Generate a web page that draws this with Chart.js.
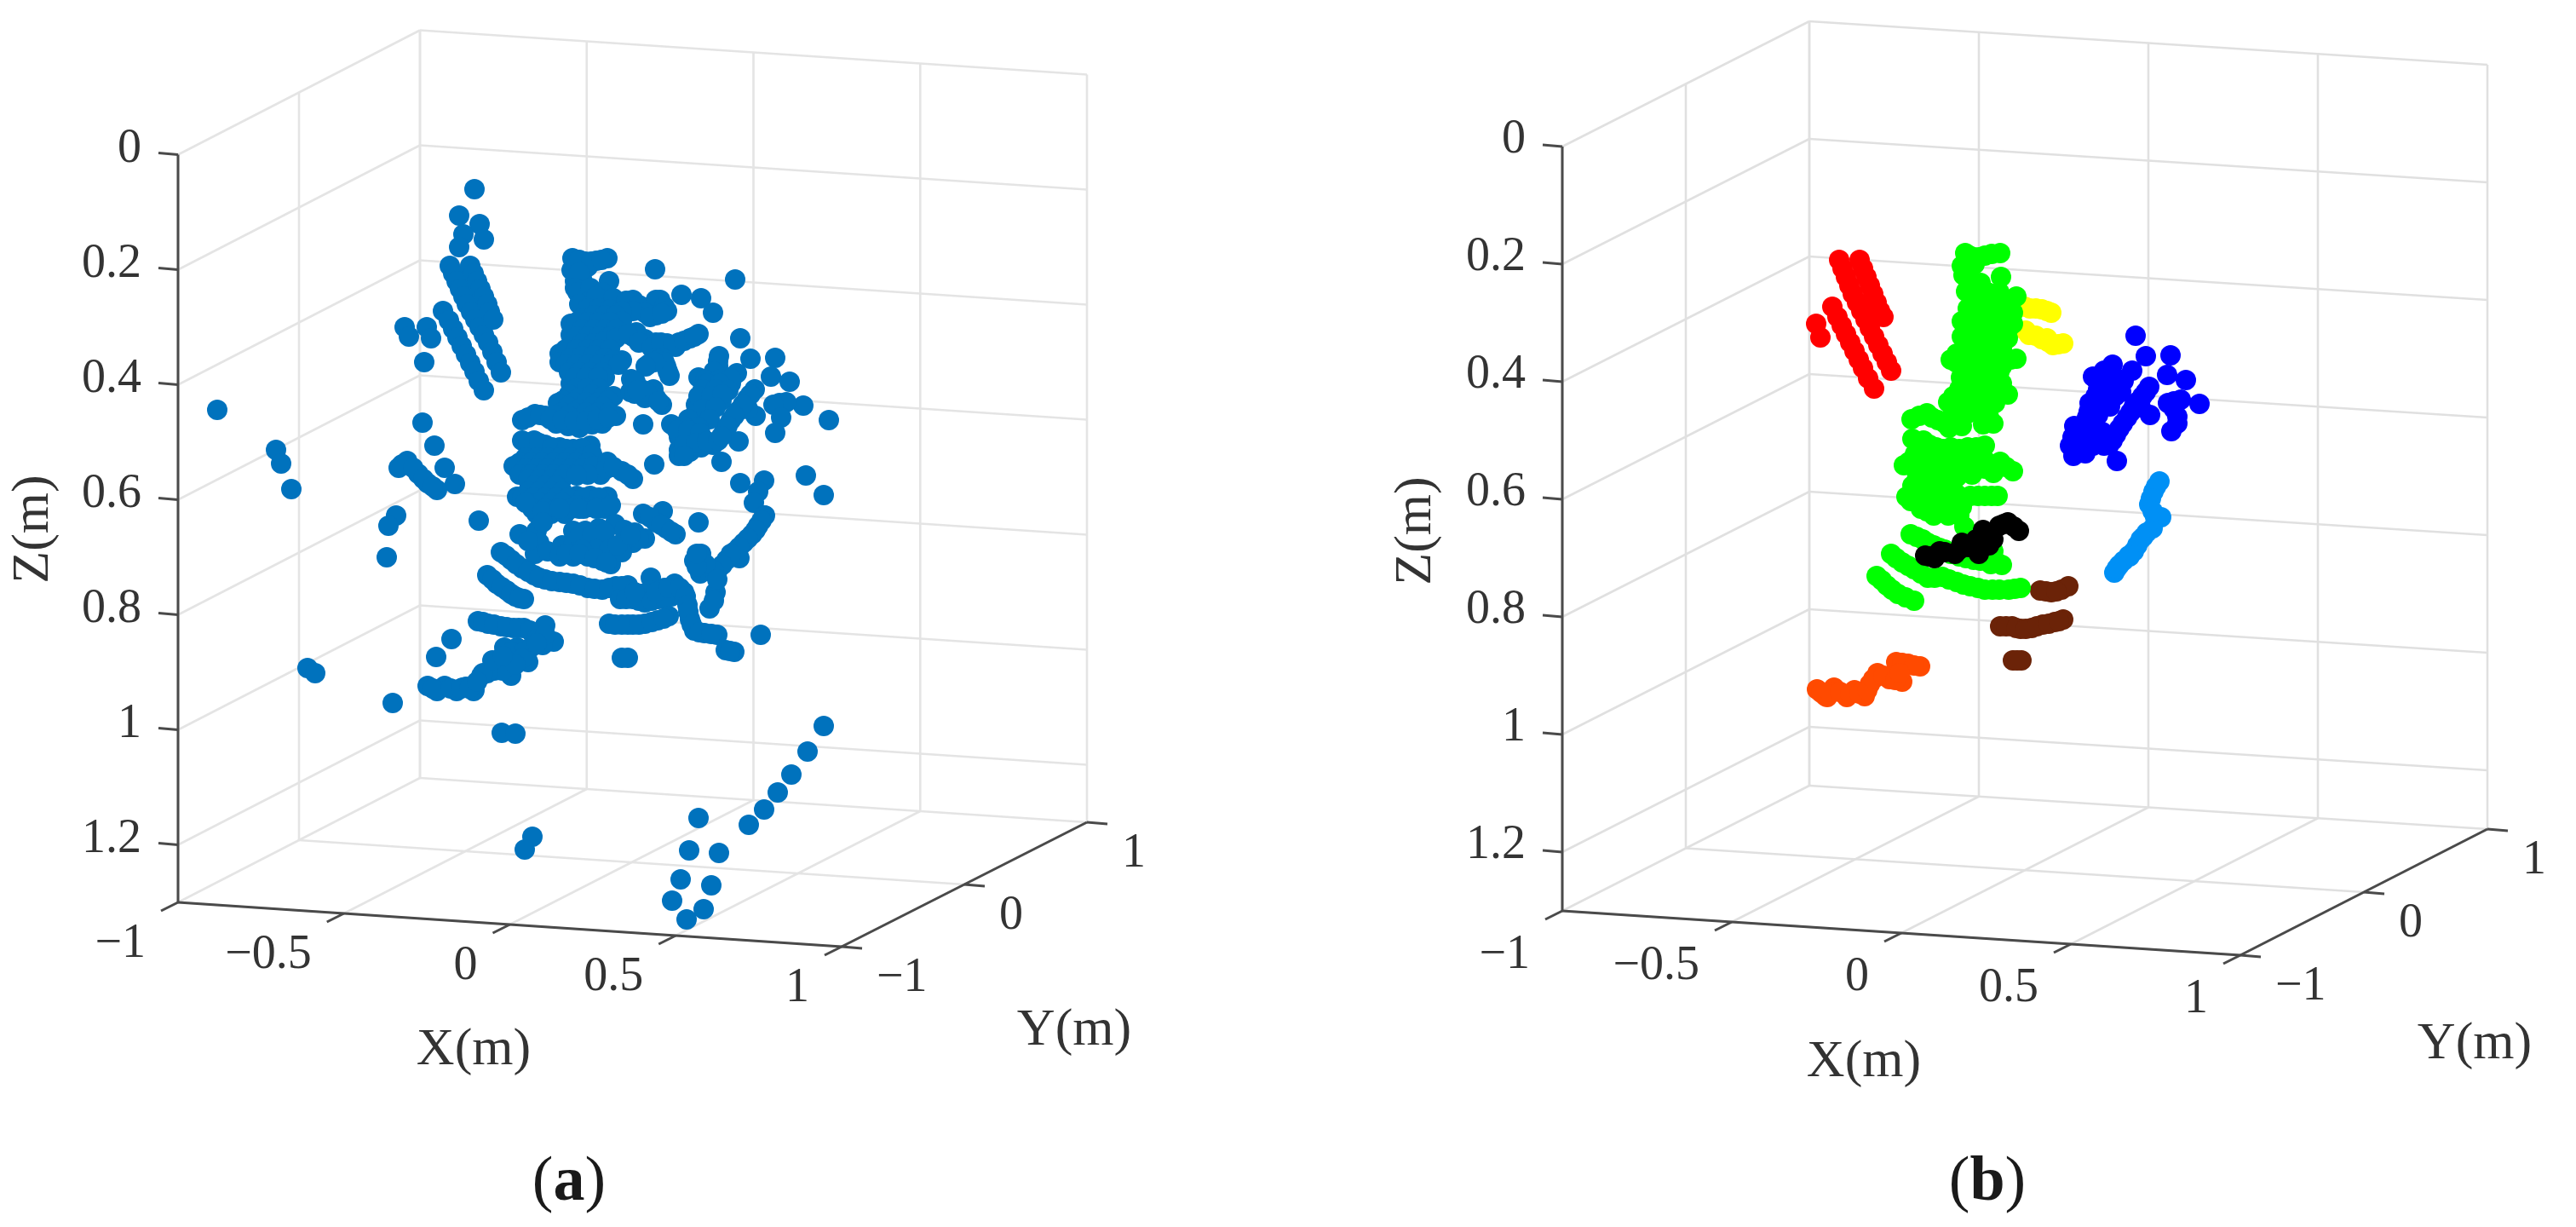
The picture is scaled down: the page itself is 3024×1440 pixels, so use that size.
<!DOCTYPE html>
<html>
<head>
<meta charset="utf-8">
<script src="https://cdn.jsdelivr.net/npm/chart.js@4/dist/chart.umd.min.js"></script>
<style>
  html, body { margin: 0; background: #fff; width: 3024px; height: 1440px; overflow: hidden; }
  canvas { position: absolute; top: 0; }
  .caption { position: absolute; top: 1338px; width: 200px; text-align: center; font: 74px "Liberation Serif", serif; line-height: 90px; color: #1a1a1a; }
</style>
</head>
<body>
<canvas id="panelA" width="1512" height="1440" style="left:0"></canvas>
<canvas id="panelB" width="1512" height="1440" style="left:1512px"></canvas>
<div class="caption" style="left:568px">(<b>a</b>)</div>
<div class="caption" style="left:2233px">(<b>b</b>)</div>
<script>
const xTicks = [-1, -0.5, 0, 0.5, 1];
const yTicks = [-1, 0, 1];
const zTicks = [0, 0.2, 0.4, 0.6, 0.8, 1, 1.2];
const xTickLabels = ["\u22121", "\u22120.5", "0", "0.5", "1"];
const yTickLabels = ["\u22121", "0", "1"];
const zTickLabels = ["0", "0.2", "0.4", "0.6", "0.8", "1", "1.2"];
const zMax = 1.3;

const allPoints = [
  [557,222],[539,253],[563,263],[544,275],[568,281],[539,290],
  [528,312],[532,321],[536,330],[540,339],[544,348],[548,357],[553,366],[558,375],[563,384],[568,393],[573,402],[578,413],[583,425],[588,437],
  [552,312],[556,321],[560,330],[564,339],[568,348],[572,357],[575,366],[579,375],
  [520,365],[527,376],[532,386],[537,396],[542,406],[547,416],[552,426],[557,436],[562,447],[568,458],
  [475,384],[480,395],[501,384],[506,397],[498,425],[255,481],[324,528],[330,544],[342,574],
  [496,496],[510,523],[522,549],[534,568],[468,549],[478,541],[491,556],[502,567],[513,575],[472,545],[485,549],[497,562],[508,571],
  [465,605],[456,617],[454,654],[562,611],
  [672,303],[687,307],[700,306],[713,303],[671,317],[677,310],[690,313],[715,330],[675,330],[683,327],[680,305],[694,307],[706,305],[680,320],[675,338],[686,345],
  [678,343],[693,338],[707,343],[743,352],[727,355],[713,357],[693,353],[680,357],[700,348],[720,350],[735,353],[750,358],[763,360],[775,352],
  [770,352],[780,360],[783,365],[770,370],[757,367],[743,365],[690,362],[703,362],[716,363],[730,365],[763,372],[777,368],
  [769,316],[863,328],[800,346],[823,350],[837,367],
  [670,380],[683,373],[697,370],[710,370],[723,370],[730,377],[677,378],[690,378],[703,378],[716,378],
  [670,393],[683,387],[697,387],[710,387],[723,387],[677,395],[690,395],[703,395],[716,395],
  [657,415],[670,407],[683,403],[697,403],[710,400],[723,397],[664,410],[677,410],[690,410],[703,410],[716,410],
  [657,425],[670,420],[683,418],[697,417],[710,420],[730,423],[720,423],[664,428],[677,428],[690,428],[703,428],[716,428],[726,428],
  [743,395],[757,398],[770,402],[783,403],[797,402],[810,397],[820,392],[747,390],[793,407],[780,410],[737,392],[750,402],[765,408],[776,402],[790,405],[803,400],[815,395],
  [777,420],[782,430],[786,441],[762,427],[772,423],[869,397],[780,425],[784,436],[768,425],[758,430],
  [668,437],[680,437],[693,437],[707,437],[670,450],[682,450],[697,447],[710,443],[675,443],[688,443],[702,443],[676,456],[689,456],[703,456],
  [668,463],[680,467],[695,463],[708,465],[720,465],[661,470],[674,472],[688,472],[702,472],[714,470],
  [655,473],[667,477],[680,480],[695,477],[708,477],[660,484],[674,484],[688,484],[702,484],[715,484],
  [741,445],[740,460],[753,457],[767,457],[770,467],[777,475],[757,467],[743,453],[746,448],[745,462],[760,462],[773,471],[748,458],
  [613,493],[628,486],[640,488],[653,497],[652,487],[667,500],[680,502],[695,498],[707,497],[723,488],[667,488],[695,488],[755,498],[620,490],[634,487],[646,492],[660,493],[674,494],[688,494],[701,492],[714,490],
  [844,418],[843,430],[820,443],[837,443],[865,438],[852,443],[858,450],[843,424],[838,436],[828,446],[845,445],[858,444],[830,450],[845,450],
  [881,421],[910,420],[905,442],[927,448],[943,476],[973,493],
  [825,457],[840,457],[855,458],[817,475],[832,472],[847,470],[815,488],[830,487],[820,465],[835,465],[848,463],[825,480],[840,478],[820,495],[833,492],[808,492],
  [788,498],[802,500],[820,502],[797,513],[810,513],[825,515],[797,528],[797,535],[810,530],[823,525],[837,522],[795,505],[808,505],[822,508],[803,522],[817,520],[830,518],[803,535],
  [886,457],[877,468],[867,482],[858,493],[850,507],[843,517],[887,488],[878,480],[867,518],[847,542],[881,463],[872,475],[862,488],[854,500],[847,512],
  [915,473],[923,472],[908,475],[917,490],[910,508],[768,545],
  [869,567],[897,564],[890,577],[885,590],[946,558],[967,581],[897,605],
  [613,517],[627,517],[640,522],[657,525],[673,527],[693,523],[620,520],[633,520],[648,525],[665,527],[683,526],
  [603,547],[617,537],[630,537],[643,537],[657,537],[670,537],[683,537],[695,533],[610,543],[623,543],[636,543],[650,543],[663,543],[676,543],[690,543],
  [617,550],[630,550],[643,550],[657,550],[670,550],[683,550],[697,547],[713,542],[705,557],[730,553],[743,562],[610,557],[623,557],[637,557],[650,557],[663,557],[676,557],[690,557],[712,550],[720,548],[737,557],
  [620,563],[633,563],[647,563],[660,562],[677,558],[627,570],[640,570],[653,570],
  [607,583],[620,577],[633,577],[647,577],[660,577],[677,582],[693,582],[713,583],[715,595],[613,584],[626,584],[640,584],[653,584],[667,584],[685,584],[703,584],
  [620,590],[633,590],[647,590],[660,590],[677,593],[693,595],[703,595],[630,603],[647,603],[663,603],[625,597],[640,597],[655,597],[670,597],[685,597],[710,597],
  [755,603],[778,600],[770,613],[782,620],[793,627],[820,613],[763,607],[776,616],[788,624],
  [617,590],[637,600],[657,597],[680,597],[700,597],[717,593],
  [898,605],[890,617],[883,627],[873,637],[863,647],[868,655],[853,657],[843,668],[823,650],[815,658],[822,673],[832,670],[840,695],[833,714],[894,611],[887,622],[878,632],[868,642],[858,650],[848,663],[838,670],[828,662],[818,665],[818,650],[842,680],[838,705],
  [610,627],[630,623],[633,637],[628,650],[643,647],[660,640],[673,623],[687,623],[703,620],[722,615],[733,622],[757,632],[743,637],[730,638],[707,633],[690,637],[673,640],[657,653],[673,653],[690,653],[707,658],[717,662],[637,613],
  [680,630],[695,628],[710,625],[745,625],[700,645],[715,645],[730,648],[683,645],[665,650],[680,650],[698,655],[712,660],[725,640],[750,632],[740,628],[620,635],
  [588,648],[600,657],[613,667],[627,675],[640,680],[657,683],[673,685],[690,690],[707,692],[723,688],[737,687],[594,652],[606,662],[620,671],[633,678],[648,682],[665,684],[681,687],[698,691],[715,690],[730,688],
  [728,703],[743,703],[757,707],[773,703],[788,700],[764,678],[763,693],[780,690],[792,685],[803,695],[753,697],[735,703],[750,705],[765,705],[780,702],[745,695],[770,695],[785,690],[798,690],[805,700],
  [807,710],[810,727],[815,740],[827,743],[842,745],[852,763],[862,765],[893,745],[808,718],[812,733],[821,742],[835,744],[857,764],
  [572,675],[583,685],[595,693],[605,700],[615,703],[578,680],[589,689],[600,697],[610,702],
  [715,732],[730,733],[743,733],[757,732],[772,728],[785,723],[730,772],[737,772],[722,733],[737,733],[750,733],[765,730],[779,726],
  [561,729],[573,732],[588,735],[603,737],[615,737],[640,734],[650,753],[627,747],[637,757],[592,760],[607,760],[623,760],[607,770],[620,777],[590,780],[600,793],[580,787],[565,793],[557,810],[543,807],
  [567,730],[580,733],[595,736],[609,737],[622,740],[630,750],[640,745],[600,765],[615,765],[630,755],[598,772],[613,773],[590,787],[605,780],[572,790],
  [530,750],[512,771],[502,805],[513,811],[522,805],[536,811],[547,806],[556,811],[567,790],[508,808],[529,808],[541,808],[551,808],[560,800],[578,775],[590,770],
  [361,784],[370,790],[461,825],[589,860],[605,861],[625,982],[616,997],
  [967,852],[948,882],[929,909],[913,930],[897,950],[879,968],[820,960],[809,998],[844,1001],[799,1032],[835,1039],[789,1057],[826,1067],[806,1079],
];

const blackPoints = [
  [2260,652],[2271,655],[2277,647],[2295,650],[2303,637],[2323,650],[2320,633],[2328,622],[2340,633],[2347,617],[2357,613],[2370,623],
  [2265,653],[2283,648],[2300,645],[2311,642],[2323,640],[2334,628],[2352,615],[2364,618],[2335,640],
];
const redPoints = [
  [2159,305],[2163,315],[2167,325],[2171,335],[2175,345],[2180,355],[2185,365],[2190,375],[2195,385],[2200,395],[2205,405],[2210,415],[2215,425],[2220,435],
  [2183,305],[2187,315],[2191,325],[2195,335],[2199,345],[2203,355],[2207,365],[2211,372],
  [2151,360],[2157,372],[2162,382],[2167,392],[2172,402],[2177,412],[2182,422],[2187,432],[2193,444],[2200,456],
  [2132,380],[2137,396],
];
const greenPoints = [
  [2307,297],[2317,302],[2330,300],[2348,297],[2303,312],[2318,310],[2305,323],[2312,300],[2323,302],[2338,298],[2310,320],[2311,335],
  [2349,325],[2313,330],[2325,332],[2308,342],[2320,343],[2333,343],[2347,343],[2367,348],[2315,348],[2327,349],[2340,349],[2352,350],[2361,352],
  [2317,355],[2330,355],[2343,355],[2357,355],[2363,367],[2310,362],[2323,362],[2337,362],[2350,362],[2360,360],
  [2303,377],[2317,370],[2330,370],[2343,370],[2357,370],[2310,378],[2323,378],[2337,378],[2350,378],
  [2303,395],[2317,387],[2330,387],[2343,387],[2357,387],[2363,380],[2310,396],[2323,395],[2337,395],[2350,393],
  [2290,422],[2303,413],[2317,403],[2330,402],[2343,400],[2357,397],[2297,415],[2310,410],[2323,410],[2337,410],[2350,410],
  [2303,427],[2317,420],[2330,417],[2343,420],[2367,421],[2353,423],[2296,425],[2310,430],[2323,430],[2337,430],[2350,430],[2360,422],
  [2302,443],[2315,440],[2330,437],[2347,437],[2308,448],[2320,447],[2338,447],[2350,450],
  [2300,457],[2312,453],[2332,457],[2345,460],[2357,463],[2293,465],[2306,463],[2338,465],[2350,462],
  [2287,472],[2300,472],[2313,477],[2327,470],[2342,473],[2293,482],[2310,485],[2323,476],[2335,478],
  [2244,492],[2262,485],[2275,493],[2290,493],[2303,483],[2317,480],[2328,483],[2340,497],[2328,498],[2303,500],[2288,502],[2253,488],[2268,490],[2282,496],[2296,498],[2335,490],
  [2245,515],[2258,517],[2273,525],[2290,525],[2310,525],[2330,523],[2252,518],[2265,522],[2281,527],[2300,527],[2320,525],
  [2235,546],[2248,533],[2263,537],[2278,537],[2293,537],[2308,537],[2323,537],[2241,542],[2255,542],[2270,543],[2285,543],[2300,543],[2315,543],[2330,540],
  [2248,550],[2263,550],[2278,550],[2293,550],[2308,550],[2320,550],[2340,555],[2348,542],[2363,553],[2340,545],[2355,548],[2330,550],
  [2250,563],[2265,563],[2280,563],[2297,560],[2255,557],[2270,557],[2285,557],[2300,557],[2315,557],
  [2245,570],[2258,570],[2272,570],[2288,570],
  [2238,583],[2250,577],[2265,577],[2280,577],[2297,580],[2313,582],[2330,582],[2345,582],[2243,588],[2258,587],[2272,585],[2288,587],[2305,587],[2322,582],[2338,582],
  [2255,597],[2270,593],[2287,593],[2303,595],[2270,605],[2287,605],[2300,605],[2306,618],[2262,600],[2278,600],[2295,600],
  [2243,627],[2257,633],[2270,640],[2283,645],[2300,653],[2317,657],[2350,663],[2337,662],[2340,647],[2250,630],[2263,637],[2277,643],[2290,650],[2308,655],[2325,658],[2344,660],
  [2220,650],[2233,660],[2247,668],[2263,678],[2280,677],[2297,683],[2313,688],[2330,692],[2347,692],[2372,690],[2358,692],[2226,655],[2240,664],[2255,673],[2271,678],[2288,680],[2305,686],[2322,690],[2339,692],[2365,691],
  [2203,676],[2215,687],[2228,697],[2247,705],[2209,681],[2221,692],[2237,701],
];
const yellowPoints = [
  [2383,362],[2397,363],[2408,367],[2382,393],[2397,398],[2410,405],[2422,403],[2378,388],[2403,397],[2390,394],[2404,401],[2416,404],[2390,362],[2403,365],[2377,360],
];
const bluePoints = [
  [2507,394],[2519,418],[2548,417],[2544,440],[2566,446],[2582,474],[2480,428],[2503,435],[2457,442],[2470,443],[2483,443],[2493,447],
  [2463,457],[2477,457],[2490,460],[2453,473],[2467,473],[2477,477],[2452,483],[2463,487],[2435,500],[2448,497],[2460,500],
  [2433,513],[2447,513],[2460,513],[2473,517],[2430,523],[2443,525],[2457,523],[2470,523],[2434,535],[2448,532],[2485,541],
  [2523,454],[2515,465],[2505,477],[2497,490],[2488,503],[2480,517],[2524,487],[2513,478],
  [2545,473],[2560,469],[2556,489],[2549,506],
  [2462,447],[2476,447],[2490,447],[2470,435],[2460,465],[2473,465],[2485,452],[2483,465],[2450,490],[2440,505],[2455,505],[2468,507],[2440,520],[2452,520],[2465,520],[2438,530],
  [2519,460],[2510,471],[2501,484],[2492,497],[2484,510],[2476,522],[2552,471],[2552,480],[2556,497],[2465,480],[2475,470],
];
const skyPoints = [
  [2535,565],[2528,577],[2523,592],[2537,607],[2530,607],[2527,620],[2513,633],[2505,647],[2493,658],[2482,672],[2520,625],[2500,653],[2488,663],
  [2531,571],[2525,585],[2527,600],[2509,640],[2499,652],[2485,667],[2516,630],
];
const brownPoints = [
  [2395,693],[2408,695],[2420,692],[2428,688],[2402,694],[2414,694],
  [2348,735],[2362,735],[2372,738],[2385,737],[2398,733],[2412,730],[2422,727],[2355,735],[2367,737],[2378,738],[2391,735],[2405,732],[2417,729],
  [2363,775],[2373,775],[2368,775],
];
const orangePoints = [
  [2143,817],[2153,807],[2168,818],[2177,810],[2189,817],[2195,803],[2204,790],[2218,797],[2233,800],[2226,777],[2240,779],[2254,782],[2133,809],[2145,818],
  [2138,813],[2148,812],[2160,812],[2172,814],[2183,814],[2192,810],[2199,797],[2211,793],[2225,798],[2233,778],[2247,781],[2230,790],
];

const toXY = (pts) => pts.map(([x, y]) => ({ x, y }));

function scatter(pts, color) {
  return { data: toXY(pts), backgroundColor: color, borderWidth: 0, pointRadius: 12, pointHoverRadius: 12, showLine: false };
}

function buildPanel(id, left, frame, clusters) {
  const { FL, FR, BL, BR, k } = frame;

  // bilinear on the floor, straight up for Z
  function project(X, Y, Z) {
    const u = (X + 1) / 2, v = (Y + 1) / 2;
    const fx = (1 - v) * ((1 - u) * FL[0] + u * FR[0]) + v * ((1 - u) * BL[0] + u * BR[0]);
    const fy = (1 - v) * ((1 - u) * FL[1] + u * FR[1]) + v * ((1 - u) * BL[1] + u * BR[1]);
    return { x: fx, y: fy + (Z - zMax) * k };
  }

  const line = (a, b, color, width) => ({
    data: [a, b], borderColor: color, borderWidth: width, showLine: true, pointRadius: 0, pointHoverRadius: 0, fill: false,
  });
  const grid = (a, b) => line(a, b, frame.gridColor, 2.6);
  const axis = (a, b) => line(a, b, "#4a4a4a", 3);
  const offset = (p, dx, dy) => ({ x: p.x + dx, y: p.y + dy });

  const gridLines = [];
  xTicks.forEach((x) => {
    gridLines.push(grid(project(x, 1, 0), project(x, 1, zMax)));
    gridLines.push(grid(project(x, -1, zMax), project(x, 1, zMax)));
  });
  yTicks.forEach((y) => {
    gridLines.push(grid(project(-1, y, 0), project(-1, y, zMax)));
    gridLines.push(grid(project(-1, y, zMax), project(1, y, zMax)));
  });
  zTicks.forEach((z) => {
    gridLines.push(grid(project(-1, -1, z), project(-1, 1, z)));
    gridLines.push(grid(project(-1, 1, z), project(1, 1, z)));
  });

  const axisLines = [
    axis(project(-1, -1, 0), project(-1, -1, zMax)),
    axis(project(-1, -1, zMax), project(1, -1, zMax)),
    axis(project(1, -1, zMax), project(1, 1, zMax)),
  ];
  const tickMarks = [];
  zTicks.forEach((z) => { const p = project(-1, -1, z); tickMarks.push(axis(p, offset(p, -23, -2))); });
  xTicks.forEach((x) => { const p = project(x, -1, zMax); tickMarks.push(axis(p, offset(p, -20, 10))); });
  yTicks.forEach((y) => { const p = project(1, y, zMax); tickMarks.push(axis(p, offset(p, 24, 2))); });

  const axisText = {
    id: "axisText",
    afterDatasetsDraw(chart) {
      const { ctx, scales } = chart;
      const put = (str, p, align, size, rot) => {
        ctx.save();
        ctx.translate(scales.x.getPixelForValue(p.x), scales.y.getPixelForValue(p.y));
        if (rot) ctx.rotate(rot);
        ctx.font = `${size}px "Liberation Serif", serif`;
        ctx.fillStyle = "#333";
        ctx.textAlign = align;
        ctx.textBaseline = "middle";
        ctx.fillText(str, 0, 0);
        ctx.restore();
      };
      zTicks.forEach((z, i) => put(zTickLabels[i], offset(project(-1, -1, z), -43, frame.zLabelDy), "right", 56));
      xTicks.forEach((x, i) => put(xTickLabels[i], offset(project(x, -1, zMax), -38, frame.xLabelDy), "right", 56));
      yTicks.forEach((y, i) => put(yTickLabels[i], offset(project(1, y, zMax), 41, 37), "left", 56));
      put("X(m)", frame.xTitle, "center", 62);
      put("Y(m)", frame.yTitle, "center", 62);
      put("Z(m)", frame.zTitle, "center", 62, -Math.PI / 2);
    },
  };

  new Chart(document.getElementById(id), {
    type: "scatter",
    // first dataset is drawn on top
    data: { datasets: [...clusters, ...axisLines, ...tickMarks, ...gridLines] },
    options: {
      responsive: false,
      animation: false,
      events: [],
      layout: { autoPadding: false, padding: 0 },
      plugins: { legend: { display: false }, tooltip: { enabled: false } },
      scales: {
        x: { type: "linear", display: false, min: left, max: left + 1512 },
        y: { type: "linear", display: false, min: 0, max: 1440, reverse: true },
      },
    },
    plugins: [axisText],
  });
}

buildPanel("panelA", 0, {
  FL: [209, 1059], FR: [988, 1111], BL: [493, 913], BR: [1276, 965], k: 675,
  gridColor: "#e4e4e4", zLabelDy: -6, xLabelDy: 49,
  xTitle: { x: 556, y: 1233 }, yTitle: { x: 1261, y: 1210 }, zTitle: { x: 40, y: 621 },
}, [scatter(allPoints, "#0072BD")]);

buildPanel("panelB", 1512, {
  FL: [1834, 1069], FR: [2630, 1121], BL: [2124, 922], BR: [2920, 973], k: 690,
  gridColor: "#e0e0e0", zLabelDy: -8, xLabelDy: 52,
  xTitle: { x: 2188, y: 1247 }, yTitle: { x: 2905, y: 1226 }, zTitle: { x: 1663, y: 623 },
}, [
  scatter(blackPoints, "#000000"),
  scatter(greenPoints, "#00FF00"),
  scatter(redPoints, "#FF0000"),
  scatter(yellowPoints, "#FFFF00"),
  scatter(bluePoints, "#0000FF"),
  scatter(skyPoints, "#0090F5"),
  scatter(brownPoints, "#6B2308"),
  scatter(orangePoints, "#FF4A00"),
]);
</script>
</body>
</html>
